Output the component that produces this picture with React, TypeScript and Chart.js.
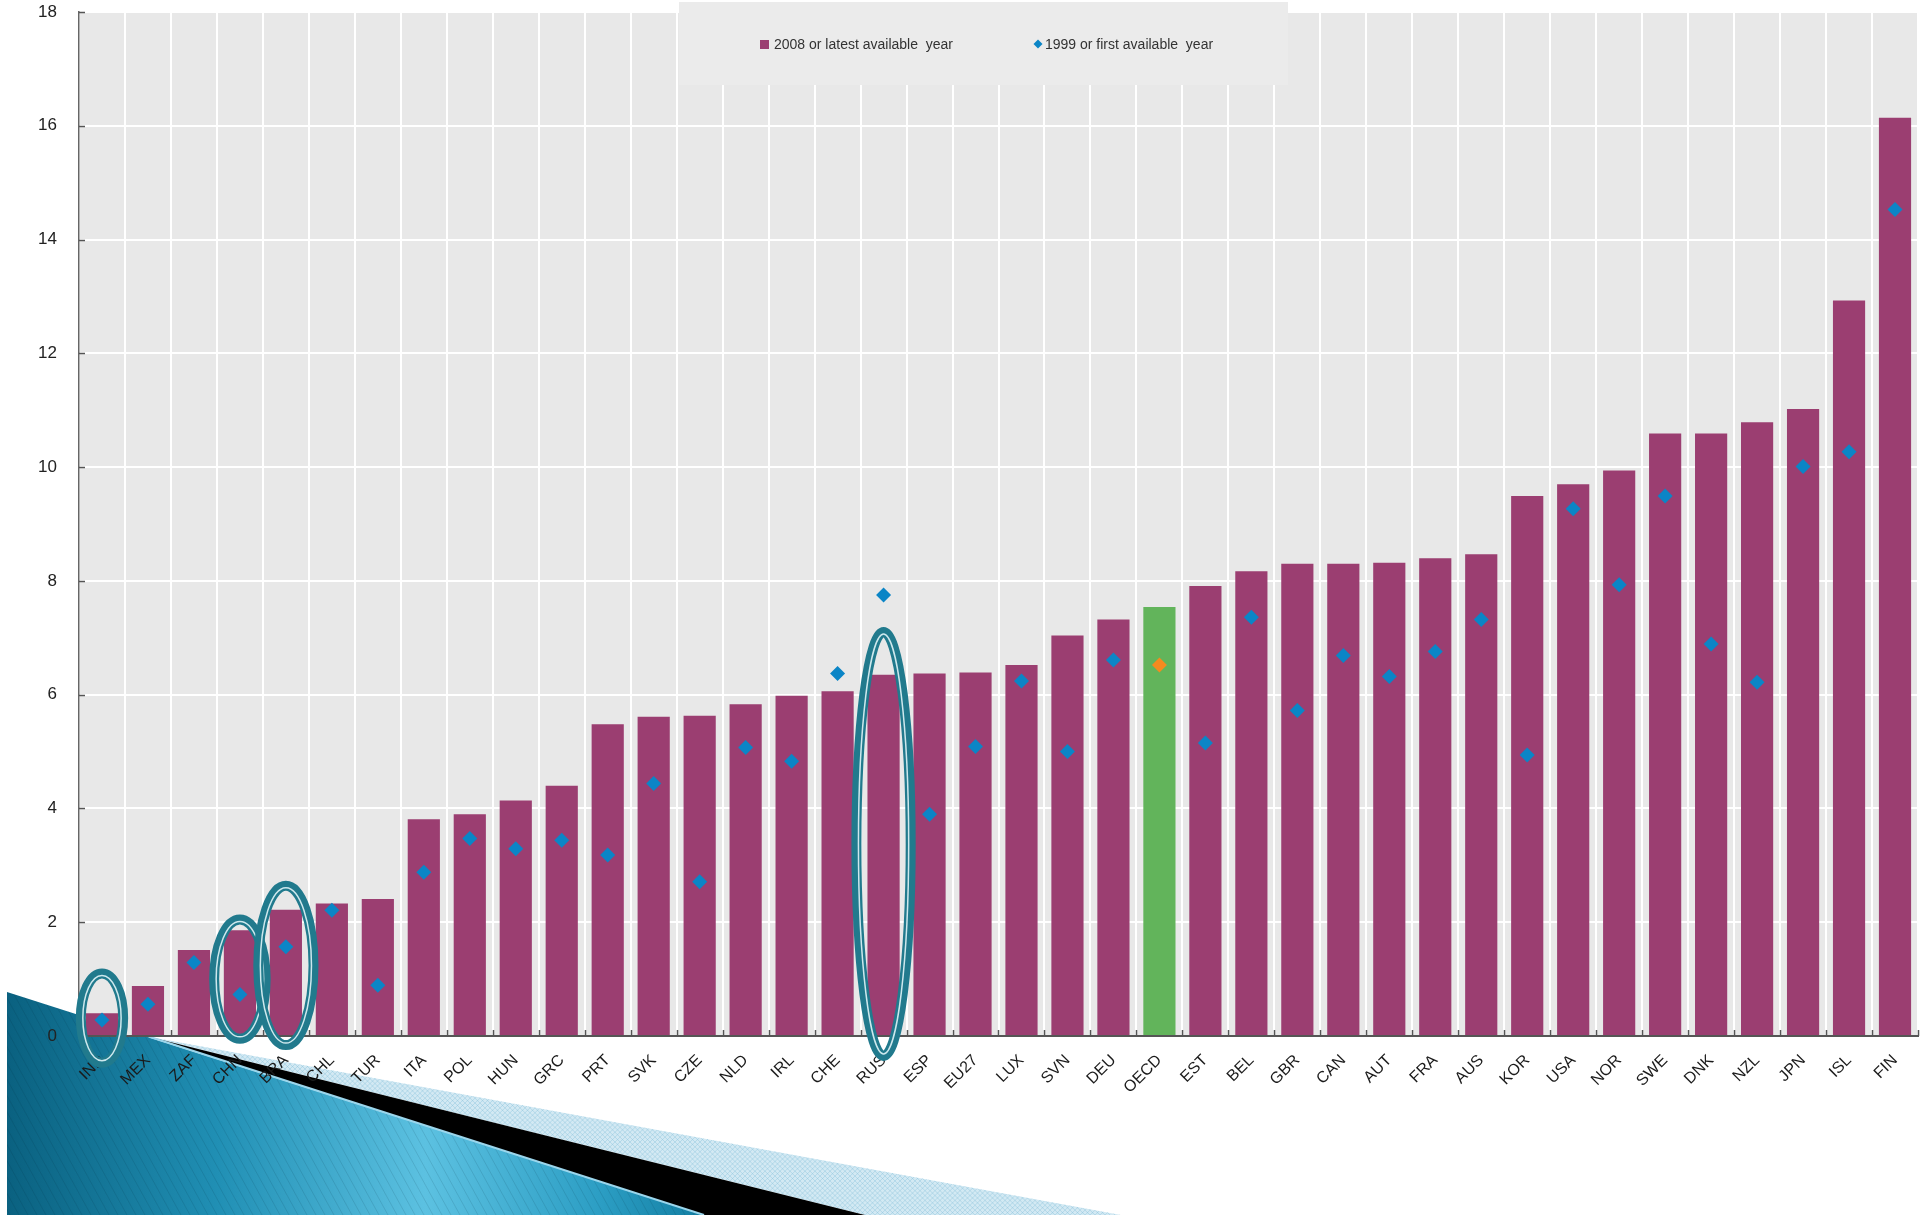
import React, { useEffect, useRef } from 'react';
import { Chart, registerables } from 'chart.js';

Chart.register(...registerables);

// ---------- data ----------
const categories = [
  'IND', 'MEX', 'ZAF', 'CHN', 'BRA', 'CHL', 'TUR', 'ITA', 'POL', 'HUN',
  'GRC', 'PRT', 'SVK', 'CZE', 'NLD', 'IRL', 'CHE', 'RUS', 'ESP', 'EU27',
  'LUX', 'SVN', 'DEU', 'OECD', 'EST', 'BEL', 'GBR', 'CAN', 'AUT', 'FRA',
  'AUS', 'KOR', 'USA', 'NOR', 'SWE', 'DNK', 'NZL', 'JPN', 'ISL', 'FIN',
];

const latestYear = [
  0.40, 0.88, 1.51, 1.86, 2.22, 2.33, 2.41, 3.81, 3.90, 4.14,
  4.40, 5.48, 5.61, 5.63, 5.83, 5.98, 6.06, 6.35, 6.37, 6.39,
  6.52, 7.04, 7.32, 7.54, 7.91, 8.17, 8.30, 8.30, 8.32, 8.40,
  8.47, 9.49, 9.70, 9.94, 10.59, 10.59, 10.79, 11.02, 12.93, 16.14,
];

const firstYear = [
  0.28, 0.56, 1.29, 0.73, 1.57, 2.21, 0.89, 2.88, 3.47, 3.29,
  3.44, 3.18, 4.44, 2.71, 5.07, 4.83, 6.37, 7.75, 3.90, 5.09,
  6.24, 5.00, 6.61, 6.52, 5.15, 7.36, 5.72, 6.69, 6.32, 6.76,
  7.32, 4.94, 9.27, 7.93, 9.49, 6.89, 6.22, 10.01, 10.27, 14.53,
];

const yTicks = [0, 2, 4, 6, 8, 10, 12, 14, 16, 18];

const legendLabels = ['2008 or latest available  year', '1999 or first available  year'];

const highlighted = 'OECD';

// circled categories: vertical extent in data units, half width in category units
const circledCats = ['IND', 'CHN', 'BRA', 'RUS'];
const circleTop = [1.1, 2.05, 2.64, 7.1];
const circleBottom = [-0.47, -0.05, -0.16, -0.35];
const circleHalfWidth = [0.46, 0.56, 0.6, 0.59];

// ---------- styles ----------
const W = 1932;
const H = 1215;
const BAR = '#9b3e71';
const BAR_HL = '#62b45b';
const DOT = '#0b85c6';
const DOT_HL = '#f58a1f';
const PLOT_BG = '#e8e8e8';
const RING = '#217a8d';
const FONT = "'Liberation Sans', Arial, sans-serif";

const decoPlugin = {
  id: 'deco',
  beforeDraw(chart: any) {
    const { ctx, chartArea: a } = chart;
    ctx.save();
    // blue triangle (slide decoration)
    const g = ctx.createLinearGradient(7, 0, 704, 0);
    g.addColorStop(0, '#0a6180');
    g.addColorStop(0.3, '#208fb4');
    g.addColorStop(0.6, '#5cc1e1');
    g.addColorStop(0.85, '#2c9ec4');
    g.addColorStop(1, '#127ea2');
    ctx.beginPath();
    ctx.moveTo(7, 992);
    ctx.lineTo(704, H);
    ctx.lineTo(7, H);
    ctx.closePath();
    ctx.fillStyle = g;
    ctx.fill();
    // faint stripes
    ctx.save();
    ctx.clip();
    ctx.strokeStyle = 'rgba(0,40,60,0.12)';
    ctx.lineWidth = 1;
    for (let x = -300; x < 800; x += 9) {
      ctx.beginPath();
      ctx.moveTo(x, 980);
      ctx.lineTo(x + 130, H);
      ctx.stroke();
    }
    ctx.restore();
    // hatch band
    ctx.beginPath();
    ctx.moveTo(150, 1037);
    ctx.lineTo(1121, H);
    ctx.lineTo(865, H);
    ctx.closePath();
    ctx.fillStyle = '#d3e9f3';
    ctx.fill();
    ctx.save();
    ctx.clip();
    ctx.strokeStyle = 'rgba(120,185,215,0.35)';
    ctx.lineWidth = 1;
    for (let x = 0; x < 1300; x += 5) {
      ctx.beginPath();
      ctx.moveTo(x, 1030);
      ctx.lineTo(x + 190, H);
      ctx.stroke();
      ctx.beginPath();
      ctx.moveTo(x, 1030);
      ctx.lineTo(x - 190, H);
      ctx.stroke();
    }
    ctx.restore();
    // black band
    ctx.beginPath();
    ctx.moveTo(150, 1037);
    ctx.lineTo(865, H);
    ctx.lineTo(704, H);
    ctx.closePath();
    ctx.fillStyle = '#000000';
    ctx.fill();
    // light edge line
    ctx.beginPath();
    ctx.moveTo(150, 1037);
    ctx.lineTo(704, H);
    ctx.strokeStyle = '#9bd6ec';
    ctx.lineWidth = 2;
    ctx.stroke();
    // plot background
    ctx.fillStyle = PLOT_BG;
    ctx.fillRect(a.left, a.top, a.right - a.left, a.bottom - a.top);
    ctx.restore();
  },
  afterDraw(chart: any) {
    const { ctx, chartArea: a, scales } = chart;
    const xs = scales.x;
    const ys = scales.y;
    ctx.save();
    // inward ticks
    ctx.strokeStyle = '#555';
    ctx.lineWidth = 1.5;
    yTicks.forEach((v) => {
      const py = Math.round(ys.getPixelForValue(v)) + 0.5;
      ctx.beginPath();
      ctx.moveTo(a.left, py);
      ctx.lineTo(a.left + 6, py);
      ctx.stroke();
    });
    const step = xs.getPixelForValue(1) - xs.getPixelForValue(0);
    for (let i = 0; i <= categories.length; i++) {
      const px = Math.round(xs.getPixelForValue(0) - step / 2 + i * step) + 0.5;
      ctx.beginPath();
      ctx.moveTo(px, a.bottom);
      ctx.lineTo(px, a.bottom - 6);
      ctx.stroke();
    }
    // legend
    ctx.fillStyle = '#ebebeb';
    ctx.fillRect(679, 2, 609, 83);
    ctx.fillStyle = BAR;
    ctx.fillRect(760, 40, 9, 9);
    ctx.font = `14px ${FONT}`;
    ctx.fillStyle = '#333';
    ctx.textBaseline = 'middle';
    ctx.textAlign = 'left';
    ctx.fillText(legendLabels[0], 774, 45);
    ctx.fillStyle = DOT;
    ctx.beginPath();
    ctx.moveTo(1038, 39.5);
    ctx.lineTo(1042.5, 44);
    ctx.lineTo(1038, 48.5);
    ctx.lineTo(1033.5, 44);
    ctx.closePath();
    ctx.fill();
    ctx.fillStyle = '#333';
    ctx.fillText(legendLabels[1], 1045, 45);
    // ellipses
    circledCats.forEach((c, i) => {
      const idx = categories.indexOf(c);
      const cx = xs.getPixelForValue(idx);
      const yt = ys.getPixelForValue(circleTop[i]);
      const yb = ys.getPixelForValue(circleBottom[i]);
      const cy = (yt + yb) / 2;
      const ry = (yb - yt) / 2;
      const rx = circleHalfWidth[i] * step;
      ctx.beginPath();
      ctx.ellipse(cx, cy, rx, ry, 0, 0, Math.PI * 2);
      ctx.strokeStyle = RING;
      ctx.lineWidth = 10;
      ctx.stroke();
      ctx.beginPath();
      ctx.ellipse(cx, cy, rx - 2, ry - 2, 0, 0, Math.PI * 2);
      ctx.strokeStyle = 'rgba(215,238,242,0.95)';
      ctx.lineWidth = 1.5;
      ctx.stroke();
    });
    ctx.restore();
  },
};

export default function App() {
  const ref = useRef<HTMLCanvasElement | null>(null);

  useEffect(() => {
    if (!ref.current) return;
    const barColors = categories.map((c) => (c === highlighted ? BAR_HL : BAR));
    const dotColors = categories.map((c) => (c === highlighted ? DOT_HL : DOT));
    const chart = new Chart(ref.current, {
      type: 'bar',
      data: {
        labels: categories,
        datasets: [
          {
            type: 'line',
            label: legendLabels[1],
            data: firstYear,
            showLine: false,
            pointStyle: 'rectRot',
            pointRadius: 7.5,
            pointBorderWidth: 0,
            pointBackgroundColor: dotColors,
            pointBorderColor: dotColors,
            order: 1,
          } as any,
          {
            type: 'bar',
            label: legendLabels[0],
            data: latestYear,
            backgroundColor: barColors,
            borderWidth: 0,
            barPercentage: 0.7,
            categoryPercentage: 1,
            order: 2,
          },
        ],
      },
      options: {
        responsive: false,
        animation: false,
        layout: { padding: { left: 0, right: 14, top: 12, bottom: 0 } },
        plugins: {
          legend: { display: false },
          tooltip: { enabled: false },
        },
        scales: {
          x: {
            offset: true,
            grid: { color: '#ffffff', lineWidth: 2, drawTicks: false, offset: true },
            border: { display: true, color: '#555', width: 2 },
            ticks: {
              autoSkip: false,
              maxRotation: 45,
              minRotation: 45,
              padding: 15,
              color: '#1a1a1a',
              font: { family: FONT, size: 16 },
            },
            afterFit: (s: any) => {
              s.height = 179;
              s.paddingLeft = 0;
              s.paddingRight = 0;
            },
          },
          y: {
            min: 0,
            max: 18,
            grid: { color: '#ffffff', lineWidth: 2, drawTicks: false },
            border: { display: true, color: '#666', width: 1.5 },
            ticks: {
              stepSize: 2,
              padding: 22,
              color: '#222',
              font: { family: FONT, size: 17 },
            },
            afterFit: (s: any) => {
              s.width = 79;
              s.paddingTop = 0;
              s.paddingBottom = 0;
            },
          },
        },
      },
      plugins: [decoPlugin],
    });
    return () => chart.destroy();
  }, []);

  return (
    <div style={{ position: 'absolute', left: 0, top: 0, width: W, height: H, background: '#fff' }}>
      <canvas ref={ref} width={W} height={H} style={{ width: W, height: H, display: 'block' }} />
    </div>
  );
}
